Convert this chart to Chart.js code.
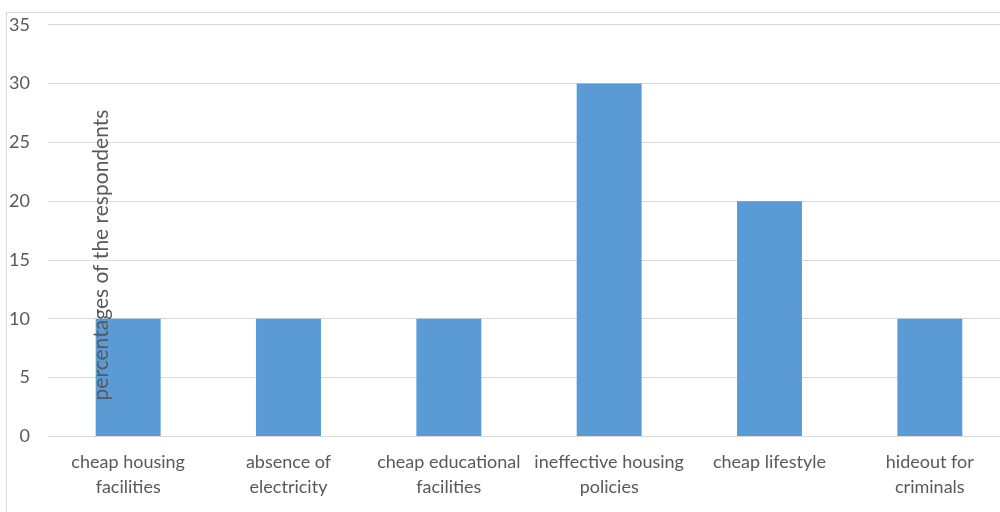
<!DOCTYPE html>
<html>
<head>
<meta charset="utf-8">
<script src="https://cdn.jsdelivr.net/npm/chart.js@4/dist/chart.umd.min.js"></script>
<style>
  html, body { margin: 0; padding: 0; background: #fff; overflow: hidden; }
  #frame { position: absolute; left: 6px; top: 12px; width: 1000px; height: 510px;
           border-left: 1px solid #d9d9d9; border-top: 1px solid #d9d9d9; }
  #wrap { position: absolute; left: 0; top: -4px; width: 1010px; height: 517px; }
</style>
</head>
<body>
<div id="frame"></div>
<div id="wrap"><canvas id="chart" width="1010" height="517"></canvas></div>
<script>
const categories = [
  ["cheap housing", "facilities"],
  ["absence of", "electricity"],
  ["cheap educational", "facilities"],
  ["ineffective housing", "policies"],
  ["cheap lifestyle"],
  ["hideout for", "criminals"]
];
const percentages = [10, 10, 10, 30, 20, 10];
const yTitle = "percentages of the respondents";

const textColor = "#595959";
const fontFamily = "Lato, 'Open Sans', sans-serif";

// axis title is drawn over the first bar in the original
const titleOverBars = {
  id: "titleOverBars",
  afterDatasetsDraw(chart) {
    const ctx = chart.ctx;
    ctx.save();
    ctx.translate(101, 259);
    ctx.rotate(-Math.PI / 2);
    ctx.font = "21px " + fontFamily;
    ctx.fillStyle = textColor;
    ctx.textAlign = "center";
    ctx.textBaseline = "middle";
    ctx.fillText(yTitle, 0, 0);
    ctx.restore();
  }
};

const ctx = document.getElementById("chart").getContext("2d");
new Chart(ctx, {
  type: "bar",
  data: {
    labels: categories,
    datasets: [
      {
        data: percentages,
        backgroundColor: "#5b9bd5",
        barPercentage: 0.405,
        categoryPercentage: 1
      }
    ]
  },
  options: {
    responsive: false,
    animation: false,
    layout: { padding: { top: 20, left: 0, right: 0, bottom: 0 } },
    plugins: {
      legend: { display: false },
      tooltip: { enabled: false }
    },
    scales: {
      x: {
        grid: { display: false, drawTicks: false },
        border: { color: "#d9d9d9", width: 1 },
        ticks: {
          color: textColor,
          font: { family: fontFamily, size: 18, lineHeight: 1.35 },
          padding: 14,
          maxRotation: 0,
          autoSkip: false
        }
      },
      y: {
        min: 0,
        max: 35,
        afterFit(scale) { scale.width = 48; },
        grid: { color: "#d9d9d9", drawTicks: false },
        border: { display: false },
        ticks: {
          stepSize: 5,
          color: textColor,
          font: { family: fontFamily, size: 18 },
          padding: 18
        }
      }
    }
  },
  plugins: [titleOverBars]
});
</script>
</body>
</html>
